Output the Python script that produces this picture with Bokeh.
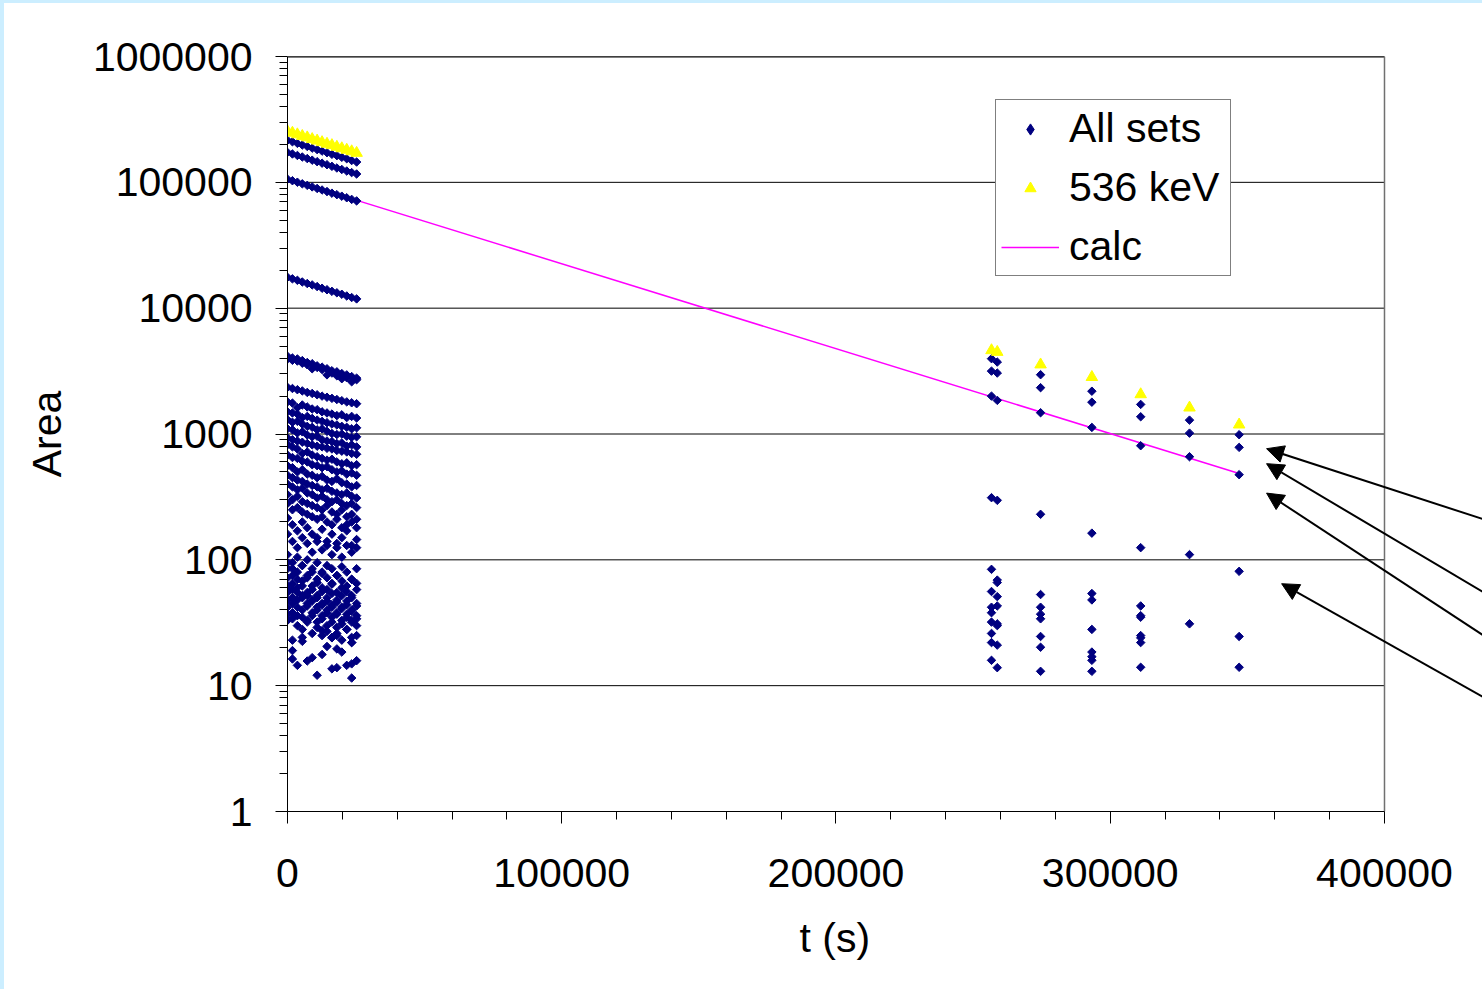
from bokeh.plotting import figure
from bokeh.models import (FixedTicker, Legend, LegendItem, Arrow, NormalHead,
                          ColumnDataSource, Spacer, NumeralTickFormatter, Title)
from bokeh.layouts import row, column
from bokeh.embed import file_html
from bokeh.resources import INLINE

FONT = "Liberation Sans"

# ---------------- data ----------------
early_t = [0, 1800, 3600, 5400, 7200, 9000, 10800, 12600, 14400, 16200,
           18000, 19800, 21600, 23400, 25200]
late_t = [256700, 258800, 274600, 293300, 311100, 328900, 347000]

# 536 keV line
kev536_early = [254000, 247000, 240000, 233000, 227000, 220000, 214000, 208000,
                202000, 197000, 191000, 186000, 181000, 176000, 171000]
kev536_late = [4620, 4480, 3560, 2830, 2064, 1618, 1186]

# All sets: lines followed to late times
set_a_early = [216000, 210000, 204000, 198000, 193000, 187000, 182000, 177000,
               172000, 167000, 163000, 158000, 154000, 149000, 145000]
set_a_late = [3970, 3730, 2960, 2188, 1718, 1289, 987]
set_b_early = [173000, 168000, 163500, 159000, 154500, 150000, 146000, 142000,
               138000, 134000, 130000, 126500, 123000, 119500, 116500]
set_b_late = [3160, 3050, 2335, 1790, 1371, 1016, 783]
set_c_early = [106000, 103000, 100200, 97300, 94600, 92000, 89400, 86900,
               84500, 82000, 79800, 77600, 75400, 73200, 71200]
set_c_late = [2000, 1850, 1476, 1128, 807, 660, 475]
set_d_early = [17600, 17100, 16650, 16150, 15700, 15300, 14850, 14400,
               14000, 13600, 13250, 12900, 12500, 12150, 11850]
set_d_late = [312, 297, 230, 163, 125, 110, 81]

# All sets: early-only lines
set_m1 = [4150, 4020, 3950, 3830, 3700, 3620, 3480, 3400, 3300, 3180, 3120, 3020, 2950, 2860, 2780]
set_m2 = [3950, 3850, 3800, 3650, 3550, 3300, 3380, 3250, 2950, 3050, 2900, 2750, 2800, 2600, 2700]
set_m3 = [2350, 2300, 2250, 2200, 2140, 2100, 2050, 2000, 1960, 1920, 1880, 1840, 1800, 1770, 1740]
set_m4 = [1800, 1760, 1620, 1700, 1640, 1580, 1560, 1500, 1470, 1440, 1400, 1420, 1350, 1380, 1340]
set_m5 = [1500, 1470, 1440, 1350, 1380, 1330, 1290, 1260, 1230, 1200, 1180, 1150, 1130, 1100, 1120]
set_m6 = [1300, 1240, 1260, 1200, 1150, 1130, 1080, 1100, 1050, 1010, 990, 1000, 960, 940, 950]
set_m7 = [1100, 1080, 1020, 1040, 980, 950, 960, 900, 880, 870, 840, 850, 800, 820, 790]
set_m8 = [930, 900, 880, 860, 840, 820, 800, 790, 770, 760, 740, 730, 720, 700, 690]
set_m9 = [820, 790, 760, 700, 720, 680, 660, 640, 620, 630, 600, 580, 590, 560, 570]
set_m10 = [680, 650, 640, 610, 600, 570, 560, 540, 550, 520, 500, 510, 480, 490, 470]
set_m11 = [560, 540, 500, 520, 480, 470, 450, 460, 430, 420, 440, 410, 400, 380, 390]
set_m12 = [470, 450, 430, 420, 400, 390, 380, 360, 370, 350, 340, 330, 340, 320, 310]
set_m13 = [400, 380, 360, 370, 340, 330, 310, 320, 300, 290, 300, 280, 270, 280, 260]
set_m14 = [330, 300, 320, 290, 280, 270, 260, 250, 270, 240, 230, 250, 220, 230, 210]
set_m15 = [280, 250, 260, 240, 230, 220, 210, 220, 200, 190, 210, 180, 190, 200, 180]
set_m16 = [215, 190, 170, 200, 180, 160, 150, 175, 140, 160, 135, 150, 170, 130, 145]
set_m17 = [160, 140, 125, 150, 135, 115, 140, 120, 130, 110, 125, 105, 130, 115, 125]
set_l1 = [110, 95, 105, 90, 100, 85, 95, 80, 90, 85, 75, 88, 80, 70, 85]
set_l2 = [95, 85, 80, 90, 75, 80, 70, 78, 72, 65, 75, 68, 62, 70, 65]
set_l3 = [85, 75, 70, 68, 72, 62, 66, 60, 58, 64, 55, 60, 56, 52, 58]
set_l4 = [72, 65, 60, 62, 55, 58, 52, 56, 50, 54, 48, 52, 47, 50, 45]
set_l5 = [62, 58, 55, 50, 52, 48, 50, 45, 47, 44, 46, 42, 44, 40, 43]
set_l6 = [55, 50, 48, 52, 45, 47, 42, 44, 40, 42, 38, 41, 37, 39, 36]
set_l7 = [48, 45, 42, 40, 43, 38, 40, 36, 38, 35, 37, 33, 35, 32, 34]
set_l8 = [42, 38, 36, 35, 33, 36, 32, 34, 30, 32, 29, 31, 28, 33, 30]
set_l9 = [37, 34, 30, 28, 32, 26, 29, 25, 27, 24, 26, 23, 28, 22, 25]

# scattered low-level points
early_low_t = [1800, 5400, 5400, 1800, 1800, 3600, 7200, 9000, 10800, 12600, 12600,
               14400, 16200, 18000, 18000, 19800, 16200, 18000, 21600, 23400, 23400,
               23400, 25200, 23400, 0]
early_low_v = [23, 24.2, 22.5, 19, 16.3, 14.5, 15.7, 16.7, 12.1, 27.4, 17.7,
               20.5, 24.2, 25, 19.6, 18.5, 13.6, 13.9, 14.5, 24.2, 22,
               14.9, 15.8, 11.5, 33]
late_low_t = [256700, 256700, 256700, 256700, 256700, 256700, 256700, 256700,
              258800, 258800, 258800, 258800, 258800, 258800, 258800, 258800,
              274600, 274600, 274600, 274600, 274600, 274600, 274600,
              293300, 293300, 293300, 293300, 293300, 293300, 293300,
              311100, 311100, 311100, 311100, 311100, 311100, 311100,
              328900, 347000, 347000]
late_low_v = [84, 56, 42, 38, 32, 26, 22, 15.9,
              69, 66, 51, 43, 31, 30, 21, 13.9,
              53, 42, 37, 34, 24.6, 20.2, 13.0,
              54, 48, 28, 18.5, 17, 15.9, 13.0,
              43, 36, 35, 25, 24, 22, 14,
              31, 24.6, 14]

# calculated decay line (end points)
calc_t = [0, 347000]
calc_v = [106500, 486]

# annotation arrows (tip and tail)
arrow_tip_x = [357000, 357000, 357000, 362500]
arrow_tip_y = [764, 581, 339, 64.6]
arrow_tail_x = [437000, 437000, 437000, 437000]
arrow_tail_y = [207, 53.8, 24.3, 7.9]

x_ticks = [0, 100000, 200000, 300000, 400000]
x_labels = ["0", "100000", "200000", "300000", "400000"]
x_minor = [20000, 40000, 60000, 80000, 120000, 140000, 160000, 180000,
           220000, 240000, 260000, 280000, 320000, 340000, 360000, 380000]
y_ticks = [1, 10, 100, 1000, 10000, 100000, 1000000]
y_labels = ["1", "10", "100", "1000", "10000", "100000", "1000000"]
y_minor = [m * d for d in [1, 10, 100, 1000, 10000, 100000] for m in range(2, 10)]

X_MIN, X_MAX = 0, 400000          # axis extent
X_VIEW_END = 435734               # frame runs on to the right window edge

# ------------- assemble "All sets" -------------
early_sets = [set_a_early, set_b_early, set_c_early, set_d_early, set_m1, set_m2,
              set_m3, set_m4, set_m5, set_m6, set_m7, set_m8, set_m9, set_m10,
              set_m11, set_m12, set_m13, set_m14, set_m15, set_m16, set_m17,
              set_l1, set_l2, set_l3, set_l4, set_l5, set_l6, set_l7, set_l8, set_l9]
late_sets = [set_a_late, set_b_late, set_c_late, set_d_late]

all_x, all_y = [], []
for s in early_sets:
    all_x += early_t
    all_y += s
for s in late_sets:
    all_x += late_t
    all_y += s
all_x += early_low_t + late_low_t
all_y += early_low_v + late_low_v

src_all = ColumnDataSource(dict(x=all_x, y=all_y))
src_536 = ColumnDataSource(dict(x=early_t + late_t, y=kev536_early + kev536_late))
src_calc = ColumnDataSource(dict(x=calc_t, y=calc_v))

# ---------------- figure ----------------
p = figure(width=1478, height=986, y_axis_type="log",
           x_range=(X_MIN, X_VIEW_END), y_range=(1, 1000000),
           output_backend="svg", toolbar_location=None,
           min_border_left=283, min_border_right=0,
           min_border_top=53, min_border_bottom=178)
p.background_fill_color = "white"
p.border_fill_color = "white"
p.outline_line_color = None

p.xgrid.visible = False
p.ygrid.visible = False

# horizontal grid lines and plot-area border, limited to the axis extent
p.segment(x0=[X_MIN] * len(y_ticks), x1=[X_MAX] * len(y_ticks),
          y0=y_ticks, y1=y_ticks, line_color="black", line_width=1)
p.segment(x0=[X_MIN], x1=[X_MAX], y0=[y_ticks[-1]], y1=[y_ticks[-1]],
          line_color="black", line_width=2)
p.segment(x0=[X_MAX], x1=[X_MAX], y0=[y_ticks[0]], y1=[y_ticks[-1]],
          line_color="#707070", line_width=1.5)

p.xaxis.ticker = FixedTicker(ticks=x_ticks, minor_ticks=x_minor)
p.yaxis.ticker = FixedTicker(ticks=y_ticks, minor_ticks=y_minor)
p.xaxis.bounds = (X_MIN, X_MAX)
p.xaxis.formatter = NumeralTickFormatter(format="0")
p.yaxis.formatter = NumeralTickFormatter(format="0")
p.xaxis.major_label_overrides = {v: s for v, s in zip(x_ticks, x_labels)}
p.yaxis.major_label_overrides = {v: s for v, s in zip(y_ticks, y_labels)}

p.yaxis.axis_label = "Area"

for ax in (p.xaxis[0], p.yaxis[0]):
    ax.major_label_text_font = FONT
    ax.major_label_text_font_size = "41px"
    ax.major_label_text_color = "black"
    ax.axis_label_text_font = FONT
    ax.axis_label_text_font_size = "41px"
    ax.axis_label_text_font_style = "normal"
    ax.axis_label_text_color = "black"
    ax.axis_line_color = "black"
    ax.major_tick_line_color = "black"
    ax.minor_tick_line_color = "black"
    ax.major_tick_in = 0
    ax.major_tick_out = 12
    ax.minor_tick_in = 0
    ax.minor_tick_out = 8

p.xaxis.major_label_standoff = 35
p.yaxis.major_label_standoff = 23
p.yaxis.axis_label_standoff = 20

# x-axis title, centred under the 0..400000 axis (the frame runs further right)
x_title = Title(text="t (s)", align="left", offset=512, standoff=51,
                vertical_align="top",
                text_font=FONT, text_font_size="41px", text_font_style="normal",
                text_color="black")
p.add_layout(x_title, "below")

r_calc = p.line("x", "y", source=src_calc, line_color="#FF00FF", line_width=1.5)
r_all = p.scatter("x", "y", source=src_all, marker="square", angle=0.785398,
                  size=6, fill_color="#000080", line_color="#000080")
r_536 = p.scatter("x", "y", source=src_536, marker="triangle", size=11.5,
                  fill_color="#FFFF00", line_color="#FFFF00")

# hidden proxy used only for the legend swatch (diamond shape)
r_all_key = p.scatter("x", "y", source=src_all, marker="diamond", size=8,
                      fill_color="#000080", line_color="#000080", visible=False)

for xs, ys, xe, ye in zip(arrow_tail_x, arrow_tail_y, arrow_tip_x, arrow_tip_y):
    p.add_layout(Arrow(x_start=xs, y_start=ys, x_end=xe, y_end=ye,
                       line_color="black", line_width=2,
                       end=NormalHead(size=17, fill_color="black", line_color="black")))

legend = Legend(items=[LegendItem(label="All sets", renderers=[r_all_key]),
                       LegendItem(label="536 keV", renderers=[r_536]),
                       LegendItem(label="calc", renderers=[r_calc])],
                location=(708, 535))
legend.label_text_font = FONT
legend.label_text_font_size = "41px"
legend.label_text_color = "black"
legend.border_line_color = "black"
legend.border_line_width = 1
legend.background_fill_color = "white"
legend.background_fill_alpha = 1
legend.padding = 5
legend.spacing = 12
legend.glyph_width = 58
legend.glyph_height = 28
legend.label_height = 44
legend.label_width = 156
legend.label_standoff = 10
legend.margin = 0
p.add_layout(legend)

strip_top = Spacer(width=1482, height=3, styles={"background-color": "#cceeff"})
strip_left = Spacer(width=4, height=986, styles={"background-color": "#cceeff"})
layout = column(strip_top, row(strip_left, p))

open("out.html", "w").write(file_html(layout, INLINE))
